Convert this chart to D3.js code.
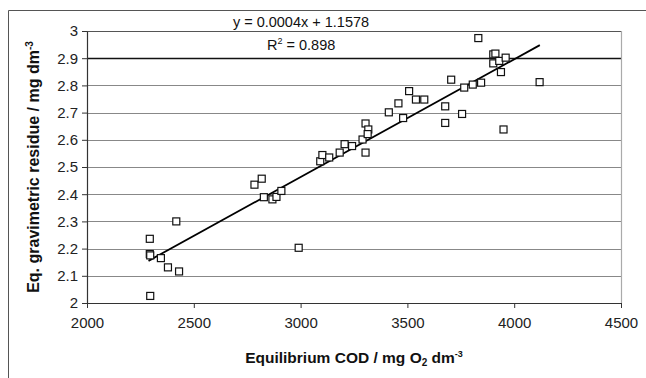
<!DOCTYPE html>
<html>
<head>
<meta charset="utf-8">
<script src="https://cdn.jsdelivr.net/npm/d3@7"></script>
<style>
  body { margin: 0; background: #fff; }
  text { font-family: "Liberation Sans", Arial, sans-serif; }
</style>
</head>
<body>
<svg id="chart" width="646" height="378"></svg>
<script>
// equilibrium COD (mg O2 dm-3)
var cod = [2294, 2294, 2296, 2346, 2379, 2431, 2418, 2296, 2991,
  2784, 2818, 2828, 2868, 2887, 2910,
  3092, 3102, 3134, 3183, 3206, 3241, 3290, 3304, 3317, 3314, 3304,
  3413, 3458, 3480, 3508, 3540, 3579, 3677, 3677, 3705, 3756, 3766, 3806, 3845,
  3832, 3902, 3912, 3902, 3930, 3938, 3960, 3950, 4119];
// eq. gravimetric residue (mg dm-3)
var residue = [2.236, 2.180, 2.175, 2.165, 2.131, 2.116, 2.300, 2.026, 2.203,
  2.435, 2.457, 2.389, 2.381, 2.390, 2.412,
  2.521, 2.544, 2.535, 2.553, 2.584, 2.577, 2.601, 2.660, 2.638, 2.621, 2.553,
  2.701, 2.734, 2.680, 2.779, 2.748, 2.748, 2.723, 2.662, 2.821, 2.695, 2.792, 2.803, 2.810,
  2.974, 2.914, 2.917, 2.881, 2.890, 2.849, 2.902, 2.638, 2.812];
// trend line as drawn
var trendX = [2288, 4120];
var trendY = [2.155, 2.948];
var xTicks = [2000, 2500, 3000, 3500, 4000, 4500];
var yTicks = [2, 2.1, 2.2, 2.3, 2.4, 2.5, 2.6, 2.7, 2.8, 2.9, 3];

var svg = d3.select("#chart"),
    margin = {top: 31, right: 25, bottom: 75, left: 87},
    width = +svg.attr("width") - margin.left - margin.right,
    height = +svg.attr("height") - margin.top - margin.bottom;

// outer frame
svg.append("path")
    .attr("d", "M8.5,378V10.5H646")
    .attr("fill", "none")
    .attr("stroke", "#555")
    .attr("stroke-width", 1);

var x = d3.scaleLinear().domain([2000, 4500]).range([0, width]),
    y = d3.scaleLinear().domain([2, 3]).range([height, 0]);

var g = svg.append("g")
    .attr("transform", "translate(" + margin.left + "," + margin.top + ")");

// gridlines
g.selectAll(".grid")
  .data(yTicks.slice(1))
  .enter().append("line")
    .attr("class", "grid")
    .attr("x1", 0)
    .attr("x2", width)
    .attr("y1", function(d) { return Math.round(y(d)) + 0.5; })
    .attr("y2", function(d) { return Math.round(y(d)) + 0.5; })
    .attr("stroke", function(d) { return d === 2.9 ? "#111" : (d === 3 ? "#555" : "#888"); })
    .attr("stroke-width", function(d) { return d === 2.9 ? 1.4 : 1.2; });

// right border of plot
g.append("line")
    .attr("x1", width + 0.5).attr("x2", width + 0.5)
    .attr("y1", 0).attr("y2", height)
    .attr("stroke", "#aaa")
    .attr("stroke-width", 1.2);

var xAxis = g.append("g")
    .attr("transform", "translate(0," + height + ")")
    .call(d3.axisBottom(x).tickValues(xTicks).tickSize(5).tickSizeOuter(0).tickPadding(9)
      .tickFormat(d3.format("d")));

var yAxis = g.append("g")
    .call(d3.axisLeft(y).tickValues(yTicks).tickSize(5).tickSizeOuter(0).tickPadding(4)
      .tickFormat(function(d) { return String(+d.toFixed(1)); }));

[xAxis, yAxis].forEach(function(a) {
  a.select(".domain").attr("stroke", "#333").attr("stroke-width", 1.2);
  a.selectAll(".tick line").attr("stroke", "#333");
  a.selectAll(".tick text")
    .attr("font-size", 15)
    .attr("fill", "#222")
    .style("font-family", "'Liberation Sans', Arial, sans-serif");
});

// trend line
g.append("line")
    .attr("x1", x(trendX[0])).attr("y1", y(trendY[0]))
    .attr("x2", x(trendX[1])).attr("y2", y(trendY[1]))
    .attr("stroke", "#000")
    .attr("stroke-width", 1.8);

// points
var s = 7;
g.selectAll(".pt")
  .data(cod.map(function(c, i) { return [c, residue[i]]; }))
  .enter().append("rect")
    .attr("class", "pt")
    .attr("x", function(d) { return x(d[0]) - s / 2; })
    .attr("y", function(d) { return y(d[1]) - s / 2; })
    .attr("width", s)
    .attr("height", s)
    .attr("fill", "#fff")
    .attr("stroke", "#111")
    .attr("stroke-width", 1.2);

// equation
svg.append("text")
    .attr("x", 301).attr("y", 27)
    .attr("text-anchor", "middle")
    .attr("font-size", 14.5)
    .attr("fill", "#111")
    .text("y = 0.0004x + 1.1578");

var r2 = svg.append("text")
    .attr("x", 267).attr("y", 50)
    .attr("font-size", 14.5)
    .attr("fill", "#111");
r2.append("tspan").text("R");
r2.append("tspan").attr("dy", -6).attr("font-size", 9).text("2");
r2.append("tspan").attr("dy", 6).text(" = 0.898");

// axis titles
var xt = svg.append("text")
    .attr("x", 354).attr("y", 363)
    .attr("text-anchor", "middle")
    .attr("font-size", 15.5)
    .attr("font-weight", "bold")
    .attr("fill", "#111");
xt.append("tspan").text("Equilibrium COD / mg O");
xt.append("tspan").attr("dy", 3).attr("font-size", 10).text("2");
xt.append("tspan").attr("dy", -3).text(" dm");
xt.append("tspan").attr("dy", -6).attr("font-size", 9).text("-3");

var yt = svg.append("text")
    .attr("transform", "translate(39," + (margin.top + height / 2) + ") rotate(-90)")
    .attr("text-anchor", "middle")
    .attr("font-size", 16)
    .attr("font-weight", "bold")
    .attr("fill", "#111");
yt.append("tspan").text("Eq. gravimetric residue / mg dm");
yt.append("tspan").attr("dy", -6).attr("font-size", 10).text("-3");
</script>
</body>
</html>
